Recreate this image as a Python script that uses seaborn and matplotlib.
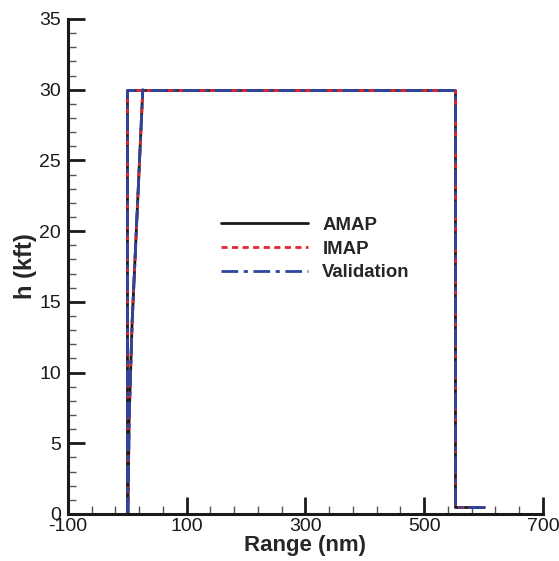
import matplotlib
matplotlib.use("Agg")
import matplotlib.pyplot as plt
from matplotlib.lines import Line2D
from matplotlib.ticker import MultipleLocator, FixedLocator
import seaborn as sns
import pandas as pd

# ---- data ----
series = ["AMAP", "IMAP", "Validation"]
seg1_x = [0, 0, 552, 552, 601]
seg1_y = [0, 30, 30, 0.5, 0.5]
seg2_x = [1, 3, 8, 26]
seg2_y = [0, 6.7, 13.5, 30]
x_major = [-100, 100, 300, 500, 700]

colors = {"AMAP": "#1a1a1a", "IMAP": "#e3262e", "Validation": "#2b46a0"}
styles = {"AMAP": "-", "IMAP": (0, (2.2, 1.6)), "Validation": (0, (6, 2, 1.5, 2))}

rows = []
for s in series:
    for x, y in zip(seg1_x, seg1_y):
        rows.append((s, 1, x, y))
    for x, y in zip(seg2_x, seg2_y):
        rows.append((s, 2, x, y))
df = pd.DataFrame(rows, columns=["series", "segment", "x", "y"])

sns.set_style("ticks")
plt.rcParams["font.family"] = ["Liberation Sans", "DejaVu Sans"]
plt.rcParams["axes.unicode_minus"] = False

fig = plt.figure(figsize=(5.59, 5.61), dpi=100)
ax = fig.add_axes([0.1216, 0.0838, 0.8497, 0.8824])

for s in series:
    sub = df[df["series"] == s]
    sns.lineplot(data=sub, x="x", y="y", units="segment", estimator=None,
                 sort=False, color=colors[s], linestyle=styles[s],
                 linewidth=2.0, ax=ax, legend=False)

ax.set_xlim(-100, 700)
ax.set_ylim(0, 35)
ax.xaxis.set_major_locator(FixedLocator(x_major))
ax.xaxis.set_minor_locator(FixedLocator([v for v in range(-100, 701, 40)]))
ax.yaxis.set_major_locator(MultipleLocator(5))
ax.yaxis.set_minor_locator(MultipleLocator(1))

for side in ["top", "right"]:
    ax.spines[side].set_visible(False)
for side in ["left", "bottom"]:
    ax.spines[side].set_linewidth(2.2)
    ax.spines[side].set_color("#1a1a1a")

ax.tick_params(which="major", direction="in", length=12, width=2, labelsize=14,
               colors="#1a1a1a", pad=3)
ax.tick_params(axis="y", which="major", pad=5)
ax.tick_params(which="minor", direction="in", length=6, width=1, colors="#555555")

ax.set_xlabel("Range (nm)", fontsize=16, fontweight="bold", labelpad=0)
ax.set_ylabel("h (kft)", fontsize=17, fontweight="bold", labelpad=2)

handles = [Line2D([0], [0], color=colors[s], linestyle=styles[s], linewidth=2.0)
           for s in series]
leg = ax.legend(handles, series, loc="upper left", bbox_to_anchor=(0.322, 0.600),
                frameon=False, handlelength=4.7, handletextpad=0.75,
                labelspacing=0.36, borderpad=0, borderaxespad=0,
                prop={"weight": "bold", "size": 13.4})

fig.savefig("out.png", dpi=100)
